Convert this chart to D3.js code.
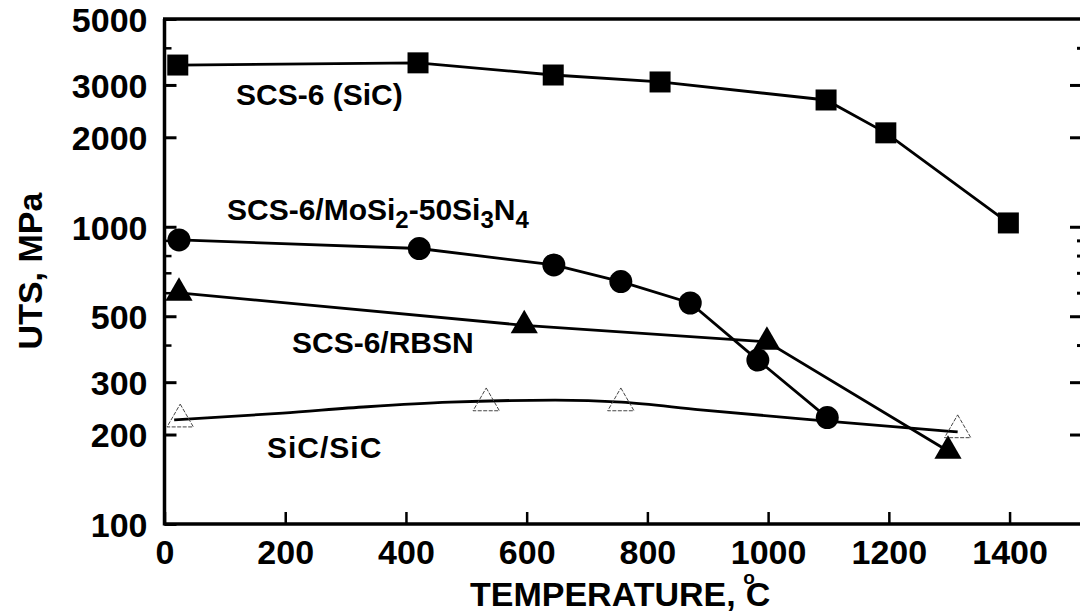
<!DOCTYPE html>
<html>
<head>
<meta charset="utf-8">
<script src="https://cdn.jsdelivr.net/npm/d3@7"></script>
<style>
  html, body { margin: 0; padding: 0; background: #fff; }
  svg { display: block; }
  text { font-family: "Liberation Sans", Arial, Helvetica, sans-serif; font-weight: bold; fill: #000; }
</style>
</head>
<body>
<svg id="chart" width="1080" height="613"></svg>
<script>
// ---- data ----
const scsT   = [22, 420, 644, 821, 1096, 1195, 1398];
const scsUTS = [3500, 3560, 3240, 3070, 2670, 2070, 1030];

const mosiT   = [24, 422, 645, 756, 871, 983, 1098];
const mosiUTS = [903, 845, 744, 654, 554, 356, 228];

const rbsnT   = [24, 596, 998, 1298];
const rbsnUTS = [599, 466, 410, 176];

const sicT   = [26, 533, 756, 1314];
const sicUTS = [225, 255, 255, 207];

// SiC/SiC fitted trend curve
const sicFitT   = [16, 196, 336, 473, 647, 757, 888, 1098, 1314];
const sicFitUTS = [224, 236, 248, 257, 261, 257, 242, 222, 204];

const xTickValues = [0, 200, 400, 600, 800, 1000, 1200, 1400];
const yLabelTicks = [100, 200, 300, 500, 1000, 2000, 3000, 5000];
const yMinorTicks = [400, 600, 700, 800, 900, 4000];
const yRightMajor = [200, 300, 500, 1000, 2000, 3000];

const xTitle = "TEMPERATURE, ";
const yTitle = "UTS, MPa";

// ---- scales ----
const x = d3.scaleLinear().domain([0, 1520]).range([164.5, 1082]);
const y = d3.scaleLog().domain([100, 5000]).range([524, 19]);

const svg = d3.select("#chart");

// ---- axes ----
const yAxisL = d3.axisLeft(y).tickValues(yLabelTicks).tickFormat(d3.format("d"))
  .tickSizeInner(-12).tickSizeOuter(0).tickPadding(17);
const gyl = svg.append("g").attr("transform", `translate(${x(0)},0)`).call(yAxisL);
gyl.select(".domain").remove();
gyl.selectAll(".tick line").attr("stroke", "#000").attr("stroke-width", 3);
gyl.selectAll(".tick text").style("font-size", "34px").attr("dy", "0.36em");

const yAxisLMinor = d3.axisLeft(y).tickValues(yMinorTicks).tickFormat("")
  .tickSizeInner(-7).tickSizeOuter(0);
const gylm = svg.append("g").attr("transform", `translate(${x(0)},0)`).call(yAxisLMinor);
gylm.select(".domain").remove();
gylm.selectAll(".tick line").attr("stroke", "#000").attr("stroke-width", 2.5);

// right side ticks (pointing inward)
const rightX = 1081;
const yAxisR = d3.axisRight(y).tickValues(yRightMajor).tickFormat("")
  .tickSizeInner(-11).tickSizeOuter(0);
const gyr = svg.append("g").attr("transform", `translate(${rightX},0)`).call(yAxisR);
gyr.select(".domain").remove();
gyr.selectAll(".tick line").attr("stroke", "#000").attr("stroke-width", 3);

const yAxisRMinor = d3.axisRight(y).tickValues(yMinorTicks).tickFormat("")
  .tickSizeInner(-4).tickSizeOuter(0);
const gyrm = svg.append("g").attr("transform", `translate(${rightX},0)`).call(yAxisRMinor);
gyrm.select(".domain").remove();
gyrm.selectAll(".tick line").attr("stroke", "#000").attr("stroke-width", 3);

const xAxis = d3.axisBottom(x).tickValues(xTickValues).tickFormat(d3.format("d"))
  .tickSizeInner(-12).tickSizeOuter(0).tickPadding(16);
const gx = svg.append("g").attr("transform", `translate(0,${y(100)})`).call(xAxis);
gx.select(".domain").remove();
gx.selectAll(".tick line").attr("stroke", "#000").attr("stroke-width", 2.5);
gx.selectAll(".tick text").style("font-size", "34px");

// frame lines (left, bottom, top)
const frame = svg.append("g").attr("stroke", "#000").attr("stroke-width", 3.5).attr("fill", "none");
frame.append("line").attr("x1", x(0)).attr("x2", x(0)).attr("y1", y(5000)).attr("y2", y(100) + 1.5);
frame.append("line").attr("x1", x(0)).attr("x2", 1080).attr("y1", y(100)).attr("y2", y(100));
frame.append("line").attr("x1", x(0) - 1.5).attr("x2", 1080).attr("y1", y(5000)).attr("y2", y(5000));

// ---- axis titles ----
const xt = svg.append("text")
  .attr("x", 470).attr("y", 606)
  .attr("text-anchor", "start").style("font-size", "34px");
xt.append("tspan").text(xTitle);
xt.append("tspan").text("o").style("font-size", "19px").attr("dy", -22).attr("dx", -2);
xt.append("tspan").text("C").attr("dx", -9).attr("dy", 22);

svg.append("text")
  .attr("transform", "translate(42,271) rotate(-90)")
  .attr("text-anchor", "middle").style("font-size", "34px")
  .text(yTitle);

// ---- lines ----
const line = d3.line().x(d => x(d[0])).y(d => y(d[1]));
const zip = (a, b) => a.map((v, i) => [v, b[i]]);

const lineG = svg.append("g").attr("fill", "none").attr("stroke", "#000").attr("stroke-width", 2.8);
lineG.append("path").attr("d", line(zip(scsT, scsUTS)));
lineG.append("path").attr("d", line(zip(mosiT, mosiUTS)));
lineG.append("path").attr("d", line(zip(rbsnT, rbsnUTS)));
lineG.append("path").attr("d", d3.line().x(d => x(d[0])).y(d => y(d[1])).curve(d3.curveMonotoneX)(zip(sicFitT, sicFitUTS)));

// ---- markers ----
const sym = (type, size) => d3.symbol().type(type).size(size)();

svg.append("g").selectAll("path").data(zip(scsT, scsUTS)).join("path")
  .attr("transform", d => `translate(${x(d[0])},${y(d[1])})`)
  .attr("d", sym(d3.symbolSquare, 441)).attr("fill", "#000");

svg.append("g").selectAll("path").data(zip(mosiT, mosiUTS)).join("path")
  .attr("transform", d => `translate(${x(d[0])},${y(d[1])})`)
  .attr("d", sym(d3.symbolCircle, 415)).attr("fill", "#000");

svg.append("g").selectAll("path").data(zip(rbsnT, rbsnUTS)).join("path")
  .attr("transform", d => `translate(${x(d[0])},${y(d[1])})`)
  .attr("d", sym(d3.symbolTriangle, 320)).attr("fill", "#000");

svg.append("g").selectAll("path").data(zip(sicT, sicUTS)).join("path")
  .attr("transform", d => `translate(${x(d[0])},${y(d[1])})`)
  .attr("d", sym(d3.symbolTriangle, 300))
  .attr("fill", "none").attr("stroke", "#444").attr("stroke-width", 1).attr("stroke-dasharray", "4 1.5");

// ---- series labels ----
const lab = svg.append("g").style("font-size", "30px");
lab.append("text").attr("x", 236).attr("y", 105).text("SCS-6 (SiC)");
const ml = lab.append("text").attr("x", 227).attr("y", 220);
ml.append("tspan").text("SCS-6/MoSi");
ml.append("tspan").text("2").style("font-size", "24px").attr("dy", 8);
ml.append("tspan").text("-50Si").attr("dy", -8);
ml.append("tspan").text("3").style("font-size", "24px").attr("dy", 8);
ml.append("tspan").text("N").attr("dy", -8);
ml.append("tspan").text("4").style("font-size", "24px").attr("dy", 8);
lab.append("text").attr("x", 292).attr("y", 353).text("SCS-6/RBSN");
lab.append("text").attr("x", 267).attr("y", 458).text("SiC/SiC").attr("letter-spacing", 1);
</script>
</body>
</html>
